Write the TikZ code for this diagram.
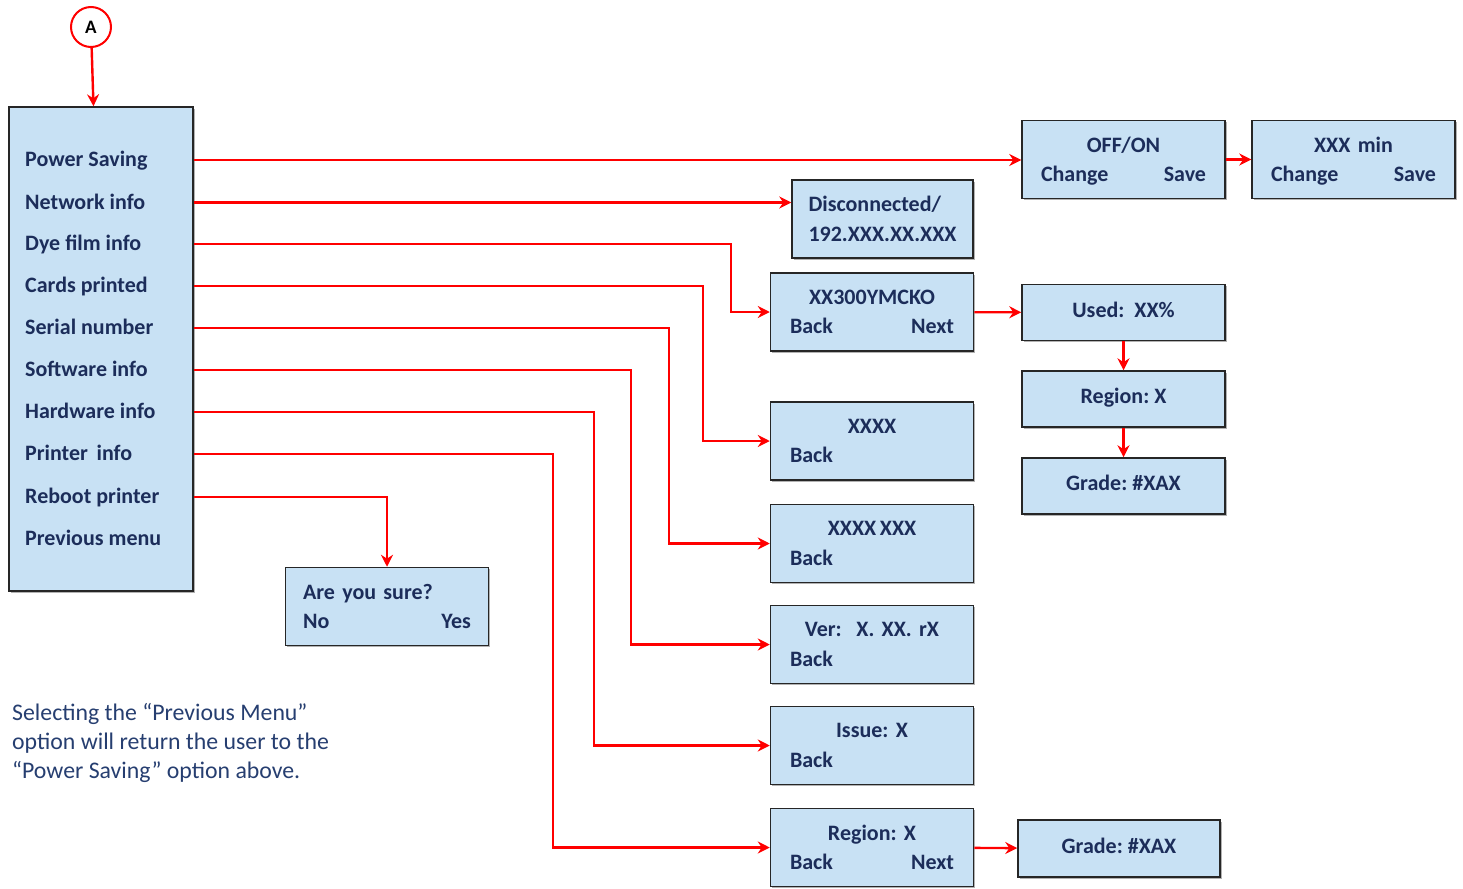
\documentclass[tikz,border=0pt]{standalone}
\usepackage{fontspec}
\setmainfont{Carlito}
\usetikzlibrary{arrows.meta,shadows}
\definecolor{boxblue}{RGB}{200,225,244}
\definecolor{navy}{RGB}{28,45,90}
\definecolor{notecol}{RGB}{38,62,112}
\tikzset{
  box/.style={rectangle, draw=black!85, line width=1.5pt, fill=boxblue, text=navy,
    font=\bfseries\fontsize{22}{29.5}\selectfont, inner sep=0pt,
    drop shadow={shadow xshift=1.6pt, shadow yshift=-1.6pt, fill=black!30, opacity=1}},
  wbox/.style={box, minimum width=203pt, minimum height=78pt},
  sbox/.style={box, minimum width=203pt, minimum height=56pt, text height=16pt, text depth=7pt},
  item/.style={anchor=west, inner sep=0pt, text=navy, text height=16pt, text depth=3pt,
    font=\bfseries\fontsize{22}{26}\selectfont},
  arr/.style={draw=red, line width=2.4pt, -{Stealth[length=12pt,width=12pt,inset=4pt]}},
}
\begin{document}
\frenchspacing
\begin{tikzpicture}[x=1pt,y=-1pt]
\useasboundingbox (0,0) rectangle (1463,888);
% start circle
\node[circle, draw=red, line width=2pt, fill=white, minimum size=40pt, inner sep=0pt,
  font=\bfseries\fontsize{19}{19}\selectfont] (A) at (91,27) {A};
% main menu
\node[box, minimum width=184pt, minimum height=484pt] (main) at (101,349) {};
\node[item] (i1) at (25,160) {Power Saving};
\node[item] (i2) at (25,202.5) {Network info};
\node[item] (i3) at (25,244) {Dye film info};
\node[item] (i4) at (25,286) {Cards printed};
\node[item] (i5) at (25,328) {Serial number};
\node[item] (i6) at (25,370) {Software info};
\node[item] (i7) at (25,412) {Hardware info};
\node[item] (i8) at (25,454) {Printer\, info};
\node[item] (i9) at (25,497) {Reboot printer};
\node[item] (i10) at (25,539) {Previous menu};
% boxes
\node[wbox, text width=165pt, align=center] (off) at (1123.5,159.5) {OFF/ON\\\smash{Change}\hfill Save};
\node[wbox, text width=165pt, align=center] (xmin) at (1353.5,159.5) {XXX min\\\smash{Change}\hfill Save};
\node[box, minimum width=181pt, minimum height=78pt, align=left] (disc) at (882.5,219) {Disconnected/\\192.XXX.XX.XXX};
\node[wbox, text width=164pt, align=center] (dye) at (872,312) {XX300YMCKO\\Back\hfill Next};
\node[sbox] (used) at (1123.5,312.5) {Used:\ \ XX\%};
\node[sbox] (reg) at (1123.5,399) {Region: X};
\node[sbox] (grade) at (1123.5,486) {Grade: \#XAX};
\node[wbox, text width=164pt, align=center] (cards) at (872,441) {XXXX\\Back\hfill\mbox{}};
\node[wbox, text width=164pt, align=center] (serial) at (872,543.5) {XXXX\,XXX\\Back\hfill\mbox{}};
\node[wbox, text width=164pt, align=center] (soft) at (872,644.5) {Ver:\ \ X. XX. rX\\Back\hfill\mbox{}};
\node[wbox, text width=164pt, align=center] (hard) at (872,745.5) {Issue: X\\Back\hfill\mbox{}};
\node[wbox, text width=164pt, align=center] (prn) at (872,847.5) {Region: X\\Back\hfill Next};
\node[box, minimum width=202pt, minimum height=57pt, text height=16pt, text depth=7pt] (grade2) at (1119,848.5) {Grade: \#XAX};
\node[wbox, text width=168pt, align=left] (sure) at (387,606.5) {Are you sure?\\No\hfill Yes};
% note
\node[anchor=north west, align=left, inner sep=0pt, text=notecol,
  font=\fontsize{23.8}{29}\selectfont] (note) at (12,703)
  {Selecting the “Previous Menu”\\option will return the user to the\\“Power Saving” option above.};
% connectors
\draw[arr] (A) -- (main);
\draw[arr] (main.east |- i1) -- (off.west |- i1);
\draw[arr] (main.east |- i2) -- (disc.west |- i2);
\draw[arr] (main.east |- i3) -- (731,0 |- i3) |- (dye.west);
\draw[arr] (main.east |- i4) -- (703,0 |- i4) |- (cards.west);
\draw[arr] (main.east |- i5) -- (669,0 |- i5) |- (serial.west);
\draw[arr] (main.east |- i6) -- (631,0 |- i6) |- (soft.west);
\draw[arr] (main.east |- i7) -- (594,0 |- i7) |- (hard.west);
\draw[arr] (main.east |- i8) -- (553,0 |- i8) |- (prn.west);
\draw[arr] (main.east |- i9) -| (sure.north);
\draw[arr] (off) -- (xmin);
\draw[arr] (dye) -- (used);
\draw[arr] (used) -- (reg);
\draw[arr] (reg) -- (grade);
\draw[arr] (prn) -- (grade2);
\end{tikzpicture}
\end{document}
